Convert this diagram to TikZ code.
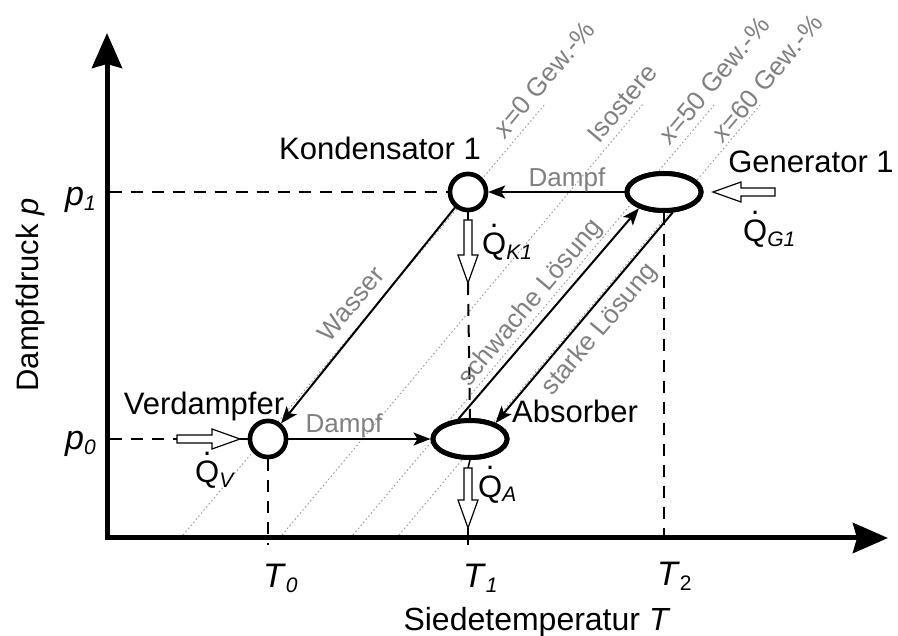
\documentclass[tikz,border=0pt]{standalone}
\usepackage{fontspec}
\setmainfont{Liberation Sans}
\usetikzlibrary{arrows.meta,shapes.geometric}
\definecolor{graytxt}{RGB}{128,128,128}
\definecolor{grayline}{RGB}{150,150,150}
\newcommand{\Qd}{{\setbox0\hbox{Q}\rlap{\hbox to\wd0{\hss\raisebox{0.9em}{.}\hss}}\box0}}
\newcommand{\sbs}[1]{\raisebox{-5pt}{\fontsize{21}{21}\selectfont\itshape #1}}
\newcommand{\sbu}[1]{\raisebox{-5pt}{\fontsize{21}{21}\selectfont #1}}
\tikzset{
  pics/oarrow/.style={code={\draw[line width=1.2pt, fill=white, line join=miter]
    (0pt,-4pt) -- ({#1-28pt},-4pt) -- ({#1-28pt},-10pt) -- (#1,0pt) -- ({#1-28pt},10pt) -- ({#1-28pt},4pt) -- (0pt,4pt) -- cycle;}}
}
\begin{document}
\begin{tikzpicture}[x=1pt,y=-1pt,
  lbl/.style={font=\fontsize{31}{36}\selectfont, inner sep=0pt, anchor=base},
  sym/.style={font=\fontsize{34}{40}\selectfont, inner sep=0pt, anchor=base west},
  glbl/.style={font=\fontsize{26}{30}\selectfont, text=graytxt, inner sep=0pt},
  isol/.style={grayline, line width=0.9pt, dash pattern=on 1.5pt off 2.5pt},
  dsh/.style={line width=2pt, dash pattern=on 12pt off 9pt},
  flow/.style={line width=2pt, -{Stealth[length=17pt,width=13pt,inset=4pt]}},
  circ/.style={circle, draw, line width=4.5pt, fill=white, minimum size=36pt, inner sep=0pt},
  ell/.style={ellipse, draw, line width=5pt, fill=white, minimum width=74pt, minimum height=37pt, inner sep=0pt},
  axis/.style={line width=5pt, line join=miter, {Stealth[length=35pt,width=30pt,inset=4pt]}-{Stealth[length=35pt,width=30pt,inset=4pt]}}
]
\useasboundingbox (0,0) rectangle (898,636);

% iso lines
\coordinate (i1a) at (183,535); \coordinate (i1b) at (545,104);
\coordinate (i2a) at (282,535); \coordinate (i2b) at (643,104);
\coordinate (i3a) at (353,535); \coordinate (i3b) at (715,104);
\coordinate (i4a) at (399,535); \coordinate (i4b) at (761,104);
\draw[isol] (i1a) -- (i1b);
\draw[isol] (i2a) -- (i2b);
\draw[isol] (i3a) -- (i3b);
\draw[isol] (i4a) -- (i4b);

% component nodes
\node[circ] (V) at (268,439) {};
\node[circ] (K) at (468,192) {};
\node[ell] (A) at (470,439) {};
\node[ell] (G) at (664,192) {};

% helper coordinates
\coordinate (ytip) at (107,33);
\coordinate (org) at (107,538);
\coordinate (xtip) at (888,538);
\coordinate (p1ax) at (109.5,192);
\coordinate (p0ax) at (109.5,439);
\coordinate (qvs) at (177,439);
\coordinate (qve) at (240,439);
\coordinate (qks) at (468,220);
\coordinate (qke) at (468,283);
\coordinate (qas) at (468,468);
\coordinate (qae) at (468,528);
\coordinate (qgs) at (775,192);
\coordinate (t0ax) at (268,545);
\coordinate (t1ax) at (468,545);
\coordinate (t2ax) at (664,545);

% dashed helper lines
\draw[dsh] (p1ax) -- (K.west);
\draw[dsh] (p0ax) -- (qvs);
\draw[line width=1.5pt] (qve) -- (V.west);
\draw[dsh] (V.south) -- (t0ax);
\draw[line width=1.5pt] (K.south) -- (qks);
\draw[dsh] (qke) -- (A.north);
\draw[line width=1.5pt] (A.south) -- (qas);
\draw[line width=1.5pt] (qae) -- (t1ax);
\draw[dsh] (G.south) -- (t2ax);

% heat arrows
\pic at (qvs) {oarrow=63pt};
\pic[rotate=-90] at (qks) {oarrow=63pt};
\pic[rotate=-90] at (qas) {oarrow=60pt};
\pic[rotate=180] at (qgs) {oarrow=62pt};

% axes
\draw[axis] (ytip) -- (org) -- (xtip);

% flows
\draw[flow] (G.west) -- (K.east);
\draw[flow] (V.east) -- (A.west);
\draw[flow] (K.230) -- (V.50);
\draw[flow] (A.120) -- (G.213);
\draw[flow] (G.293) -- (A.32);

% redraw nodes on top
\node[circ] at (V) {};
\node[circ] at (K) {};
\node[ell] at (A) {};
\node[ell] at (G) {};

% labels
\node[lbl] (kl) at (380,160) {Kondensator 1};
\node[lbl] (gl) at (811,173) {Generator 1};
\node[lbl] (vl) at (204,415) {Verdampfer};
\node[lbl] (al) at (575,423) {Absorber};
\node[lbl, font=\fontsize{32}{38}\selectfont] (xl) at (537,630) {Siedetemperatur \textit{T}};
\node[lbl, rotate=90] (yl) at (38,295) {Dampfdruck \textit{p}};

\node[sym] (p1l) at (65,206) {\textit{p}\sbs{1}};
\node[sym] (p0l) at (65,450) {\textit{p}\sbs{0}};
\node[sym] (t0l) at (263,587) {\textit{T}\sbs{0}};
\node[sym] (t1l) at (463,587) {\textit{T}\sbs{1}};
\node[sym] (t2l) at (657,585) {\textit{T}\sbu{2}};

\node[lbl, anchor=base west] (qvl) at (195,483) {\Qd\sbs{V}};
\node[lbl, anchor=base west] (qal) at (478,497) {\Qd\sbs{A}};
\node[lbl, anchor=base west] (qkl) at (482,255) {\Qd\sbs{K1}};
\node[lbl, anchor=base west] (qgl) at (743,242) {\Qd\sbs{G1}};

\node[glbl, anchor=base] (d1) at (567,187) {Dampf};
\node[glbl, anchor=base] (d2) at (344,433) {Dampf};
\node[glbl, rotate=50] (wl) at (351,304) {Wasser};
\node[glbl, rotate=50] (sl) at (531,303) {schwache Lösung};
\node[glbl, rotate=50] (stl) at (600,330) {starke Lösung};
\node[glbl, rotate=50] (x0) at (544,79) {\textit{x}=0 Gew.-\%};
\node[glbl, rotate=50] (iso) at (622,103) {Isostere};
\node[glbl, rotate=50] (x50) at (714,80) {\textit{x}=50 Gew.-\%};
\node[glbl, rotate=50] (x60) at (767,78) {\textit{x}=60 Gew.-\%};
\end{tikzpicture}
\end{document}
